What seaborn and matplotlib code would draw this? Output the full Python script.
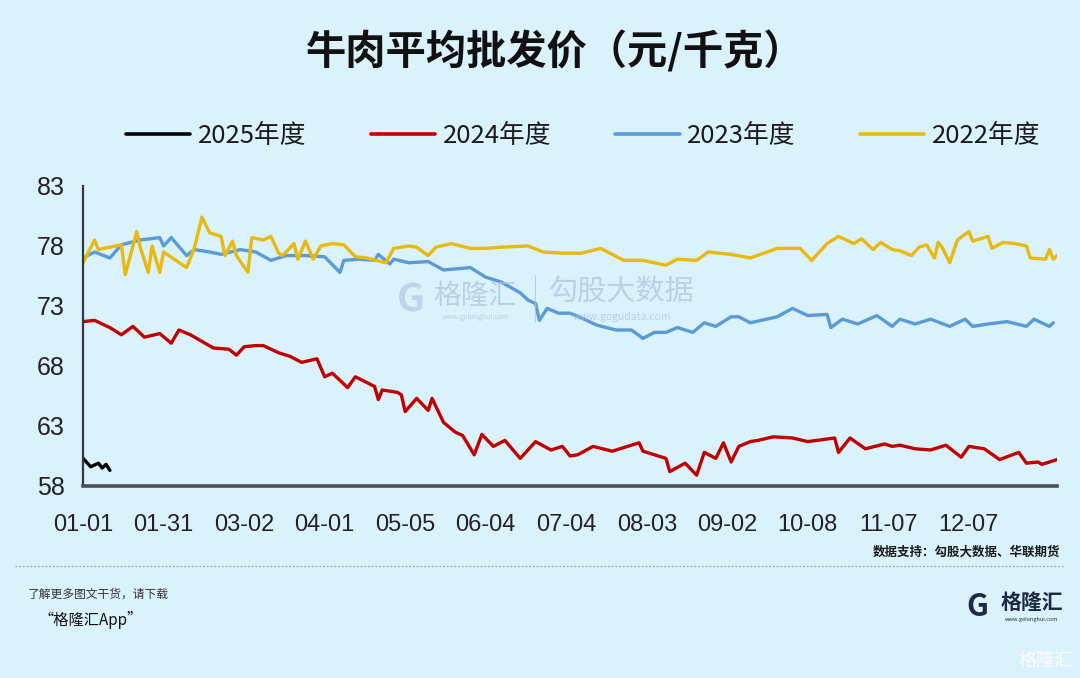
import numpy as np
import pandas as pd
import seaborn as sns
import matplotlib
matplotlib.use("Agg")
import matplotlib.pyplot as plt
from matplotlib import font_manager
from matplotlib.lines import Line2D

# ---------------- data (trading-day index, price 元/千克) ----------------
series_names = ["2025年度", "2024年度", "2023年度", "2022年度"]
series_colors = ["#000000", "#C00000", "#5B9BD5", "#E8B90E"]

day_2025 = [0, 2, 4, 5, 6, 7]
val_2025 = [60.3, 59.6, 59.9, 59.5, 59.8, 59.3]

day_2024 = [0, 3, 7, 10, 13, 16, 20, 23, 25, 28, 34, 38, 40, 42, 45, 47, 51, 54, 57, 61,
            63, 65, 69, 71, 76, 77, 78, 82, 83, 84, 87, 90, 91, 94, 97, 99, 102, 104, 107, 110,
            114, 118, 122, 125, 127, 129, 133, 138, 145, 146, 152, 153, 157, 160, 162, 165, 167,
            169, 171, 174, 176, 180, 185, 189, 196, 197, 200, 204, 209, 211, 213, 217, 221, 225,
            229, 231, 235, 239, 244, 246, 249, 250, 254]
val_2024 = [71.7, 71.8, 71.2, 70.6, 71.3, 70.4, 70.7, 69.9, 71.0, 70.6, 69.5, 69.4, 68.9, 69.6,
            69.7, 69.7, 69.1, 68.8, 68.3, 68.6, 67.1, 67.4, 66.2, 67.1, 66.3, 65.2, 66.0, 65.8,
            65.6, 64.2, 65.3, 64.3, 65.3, 63.3, 62.5, 62.2, 60.6, 62.3, 61.3, 61.8, 60.3, 61.7,
            61.0, 61.3, 60.5, 60.6, 61.3, 60.9, 61.6, 60.9, 60.3, 59.2, 59.9, 58.9, 60.8, 60.3,
            61.6, 60.0, 61.3, 61.7, 61.8, 62.1, 62.0, 61.7, 62.0, 60.8, 62.0, 61.1, 61.5, 61.3,
            61.4, 61.1, 61.0, 61.4, 60.4, 61.3, 61.1, 60.2, 60.8, 59.9, 60.0, 59.8, 60.2]

day_2023 = [0, 3, 7, 10, 15, 20, 21, 23, 27, 29, 33, 36, 41, 45, 49, 53, 58, 63, 67, 68,
            72, 76, 77, 80, 81, 85, 90, 94, 101, 105, 109, 114, 116, 118, 119, 121, 124, 127,
            130, 134, 139, 143, 146, 149, 152, 155, 159, 162, 165, 169, 171, 174, 181, 185, 189,
            194, 195, 198, 202, 207, 211, 213, 217, 221, 226, 230, 232, 236, 241, 246, 248, 252, 253]
val_2023 = [77.0, 77.5, 77.0, 78.1, 78.5, 78.7, 78.0, 78.7, 77.2, 77.7, 77.5, 77.3, 77.7, 77.5,
            76.8, 77.2, 77.2, 77.1, 75.8, 76.8, 76.9, 76.8, 77.3, 76.5, 76.9, 76.6, 76.7, 76.0,
            76.2, 75.4, 75.0, 74.1, 73.5, 73.2, 71.8, 72.8, 72.4, 72.4, 72.0, 71.4, 71.0, 71.0,
            70.3, 70.8, 70.8, 71.2, 70.8, 71.6, 71.3, 72.1, 72.1, 71.6, 72.1, 72.8, 72.2, 72.3,
            71.2, 71.9, 71.5, 72.2, 71.3, 71.9, 71.5, 71.9, 71.3, 71.9, 71.3, 71.5, 71.7, 71.3,
            71.9, 71.3, 71.6]

day_2022 = [0, 3, 4, 7, 10, 11, 14, 15, 17, 18, 20, 21, 27, 29, 31, 33, 36, 37, 39, 40,
            43, 44, 47, 49, 51, 52, 55, 56, 58, 60, 62, 65, 68, 71, 74, 79, 81, 85, 87, 90,
            92, 96, 101, 105, 109, 116, 120, 125, 130, 135, 141, 146, 152, 155, 160, 163, 169,
            174, 181, 187, 190, 194, 197, 201, 203, 206, 208, 211, 213, 216, 218, 220, 222, 223,
            224, 226, 228, 231, 232, 236, 237, 240, 243, 246, 247, 251, 252, 253, 254]
val_2022 = [76.6, 78.5, 77.7, 77.9, 78.1, 75.6, 79.2, 77.8, 75.8, 78.0, 75.8, 77.5, 76.2, 77.8,
            80.4, 79.1, 78.8, 77.2, 78.4, 77.2, 75.8, 78.7, 78.5, 78.8, 77.4, 77.2, 78.2, 76.9,
            78.4, 76.9, 78.0, 78.2, 78.1, 77.1, 77.0, 76.6, 77.8, 78.0, 77.9, 77.2, 77.9, 78.2,
            77.8, 77.8, 77.9, 78.0, 77.5, 77.4, 77.4, 77.8, 76.8, 76.8, 76.4, 76.9, 76.8, 77.5,
            77.3, 77.0, 77.8, 77.8, 76.8, 78.2, 78.8, 78.2, 78.6, 77.7, 78.3, 77.7, 77.6, 77.2,
            77.9, 78.1, 77.0, 78.3, 77.9, 76.6, 78.5, 79.2, 78.4, 78.8, 77.8, 78.3, 78.2, 78.0,
            77.0, 76.9, 77.7, 76.9, 77.2]

tick_days = [0, 21, 42, 63, 84, 105, 126, 147, 168, 189, 210, 231]
tick_labels = ["01-01", "01-31", "03-02", "04-01", "05-05", "06-04", "07-04", "08-03",
               "09-02", "10-08", "11-07", "12-07"]
y_ticks = [58, 63, 68, 73, 78, 83]

title = "牛肉平均批发价（元/千克）"
source = "数据支持：勾股大数据、华联期货"

# ---------------- frame ----------------
frames = []
for name, d, v in [("2025年度", day_2025, val_2025), ("2024年度", day_2024, val_2024),
                   ("2023年度", day_2023, val_2023), ("2022年度", day_2022, val_2022)]:
    frames.append(pd.DataFrame({"day": d, "price": v, "series": name}))
df = pd.concat(frames, ignore_index=True)

# ---------------- style ----------------
BG = "#DAF2FC"
sns.set_theme(style="white")
plt.rcParams["font.family"] = ["Noto Sans CJK SC", "DejaVu Sans"]

installed = {f.name for f in font_manager.fontManager.ttflist}
if "Liberation Sans Narrow" in installed:
    num_font, num_size = "Liberation Sans Narrow", 19
elif "DejaVu Sans Condensed" in installed:
    num_font, num_size = "DejaVu Sans Condensed", 16.5
else:
    num_font, num_size = "Liberation Sans", 17

fig = plt.figure(figsize=(10.8, 6.78), dpi=100, facecolor=BG)
ax = fig.add_axes([0.0769, 0.2832, 0.9019, 0.4425], facecolor=BG)

palette = dict(zip(series_names, series_colors))
sns.lineplot(data=df, x="day", y="price", hue="series", hue_order=series_names,
             palette=palette, linewidth=2.4, ax=ax, legend=False, sort=True,
             estimator=None)

ax.set_xlim(0, 254)
ax.set_ylim(58, 83)
ax.set_yticks(y_ticks)
ax.set_xticks(tick_days)
ax.set_xticklabels(tick_labels)
ax.set_xlabel("")
ax.set_ylabel("")
for s in ["top", "right"]:
    ax.spines[s].set_visible(False)
ax.spines["left"].set_color("#333840")
ax.spines["left"].set_linewidth(1.6)
ax.spines["bottom"].set_color("#4a4f55")
ax.spines["bottom"].set_linewidth(2.6)
ax.tick_params(axis="y", direction="out", length=7, width=1.6, color="#333840",
               labelsize=num_size + 1, pad=6, labelcolor="#222222")
ax.tick_params(axis="x", direction="out", length=10, width=1.6, color="#333840",
               labelsize=num_size, pad=10, labelcolor="#222222")
for lab in ax.get_xticklabels() + ax.get_yticklabels():
    lab.set_fontfamily(num_font)
ax.grid(False)

# legend
handles = [Line2D([0], [0], color=c, lw=2.6) for c in series_colors]
fig.legend(handles, series_names, loc="center", bbox_to_anchor=(0.540, 0.800), ncol=4,
           frameon=False, fontsize=18.5, handlelength=2.5, handletextpad=0.3,
           columnspacing=2.5, labelcolor="#1a1a1a")

# title
fig.text(0.514, 0.922, title, ha="center", va="center", fontsize=29, fontweight="bold",
         color="#111111")

# watermark in plot
wm = "#a9c3dc"
fig.text(0.380, 0.558, "G", ha="center", va="center", fontsize=28, fontweight="bold",
         color=wm, alpha=0.6)
fig.text(0.440, 0.563, "格隆汇", ha="center", va="center", fontsize=20, color=wm,
         alpha=0.7)
fig.text(0.440, 0.533, "www.gelonghui.com", ha="center", va="center", fontsize=5, color=wm,
         alpha=0.7)
fig.add_artist(Line2D([0.495, 0.495], [0.525, 0.595], transform=fig.transFigure,
                      color=wm, lw=0.8, alpha=0.7))
fig.text(0.576, 0.568, "勾股大数据", ha="center", va="center", fontsize=21, color=wm,
         alpha=0.7)
fig.text(0.576, 0.532, "www.gogudata.com", ha="center", va="center", fontsize=7.5,
         color=wm, alpha=0.7)

# source
fig.text(0.982, 0.186, source, ha="right", va="center", fontsize=9, fontweight="bold",
         color="#1a1a1a")
fig.add_artist(Line2D([0.014, 0.986], [0.165, 0.165], transform=fig.transFigure,
                      color="#9aa7b0", lw=0.9, linestyle=(0, (1.5, 1.5))))

# footer
fig.text(0.026, 0.124, "了解更多图文干货，请下载", ha="left", va="center", fontsize=8.5,
         style="italic", color="#333333")
fig.text(0.036, 0.086, "“格隆汇App”", ha="left", va="center", fontsize=11,
         style="italic", color="#111111")
fig.text(0.905, 0.105, "G", ha="center", va="center", fontsize=22, fontweight="bold",
         color="#1c2a44")
fig.text(0.955, 0.112, "格隆汇", ha="center", va="center", fontsize=15, fontweight="bold",
         color="#1c2a44")
fig.text(0.955, 0.087, "www.gelonghui.com", ha="center", va="center", fontsize=4,
         color="#1c2a44")
fig.text(0.968, 0.025, "格隆汇", ha="center", va="center", fontsize=13, color="#ffffff",
         alpha=0.9)

fig.savefig("out.png", dpi=100, facecolor=BG)
